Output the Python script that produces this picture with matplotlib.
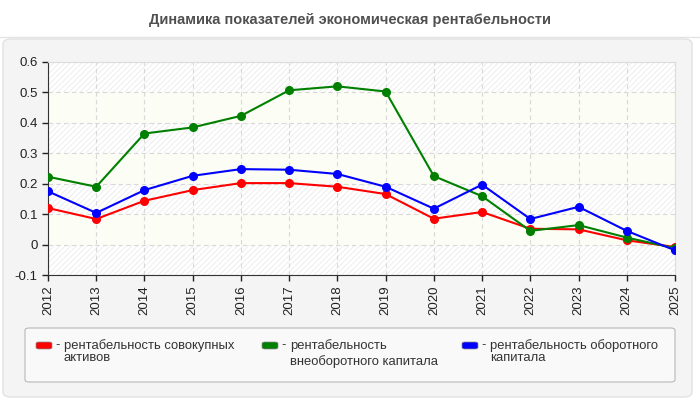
import numpy as np
import matplotlib
matplotlib.use("Agg")
import matplotlib.pyplot as plt
from matplotlib.patches import FancyBboxPatch

plt.rcParams['font.family'] = ['Liberation Sans', 'DejaVu Sans']
plt.rcParams['hatch.linewidth'] = 0.6

years = list(range(2012, 2026))
total_assets = [0.12, 0.084, 0.144, 0.179, 0.202, 0.202, 0.19, 0.166, 0.085, 0.107, 0.052, 0.05, 0.014, -0.008]
noncurrent = [0.223, 0.19, 0.365, 0.385, 0.423, 0.507, 0.52, 0.503, 0.225, 0.159, 0.045, 0.064, 0.023, -0.012]
current = [0.175, 0.104, 0.179, 0.226, 0.248, 0.246, 0.232, 0.19, 0.118, 0.197, 0.084, 0.124, 0.045, -0.019]

labels = ['рентабельность совокупных\nактивов',
          'рентабельность\nвнеоборотного капитала',
          'рентабельность оборотного\nкапитала']
colors = ['#ff0000', '#008000', '#0000ff']
series = [total_assets, noncurrent, current]

fig = plt.figure(figsize=(7, 4), dpi=100, facecolor='white')

# outer grey panel
panel = FancyBboxPatch((3 / 700, 3 / 400), 689 / 700, 358 / 400,
                       boxstyle='round,pad=0,rounding_size=0.012',
                       transform=fig.transFigure, facecolor='#f4f4f4',
                       edgecolor='#e2e2e2', linewidth=1, zorder=-2)
fig.patches.append(panel)
fig.add_artist(plt.Line2D([0, 1], [363 / 400, 363 / 400], color='#e4e4e4', lw=1,
                          transform=fig.transFigure, zorder=-2))

fig.text(0.5, 380 / 400, 'Динамика показателей экономическая рентабельности',
         ha='center', va='center', fontsize=10.5, fontweight='bold', color='#505050')

ax = fig.add_axes([48 / 700, 125 / 400, 627 / 700, 213 / 400])
ax.set_zorder(1)
ax.set_facecolor('white')

# striped background bands
bands = np.arange(-0.1, 0.6, 0.1)
for i, b in enumerate(bands):
    if i % 2 == 0:
        ax.axhspan(b, b + 0.1, facecolor='white', edgecolor='#ebebeb',
                   hatch='//////', linewidth=0, zorder=0)
    else:
        ax.axhspan(b, b + 0.1, facecolor='#fcfdf5', edgecolor='none',
                   linewidth=0, zorder=0)

for vals, c in zip(series, colors):
    ax.plot(years, vals, color=c, lw=1.5, marker='o', markersize=5.5, zorder=3)

ax.set_xlim(2012, 2025)
ax.set_ylim(-0.1, 0.6)
ax.set_xticks(years)
ax.set_xticklabels([str(y) for y in years], rotation=90)
ax.set_yticks(np.round(np.arange(-0.1, 0.61, 0.1), 1))
ax.set_yticklabels(['-0.1', '0', '0.1', '0.2', '0.3', '0.4', '0.5', '0.6'])
ax.tick_params(labelsize=9.5, colors='#222222', length=4, width=1)
ax.grid(True, color='#d8d8d8', linestyle=(0, (4, 3)), linewidth=0.8, zorder=1)
ax.set_axisbelow(True)
for s in ['left', 'bottom']:
    ax.spines[s].set_color('#333333')
for s in ['top', 'right']:
    ax.spines[s].set_color('#dddddd')

# legend box
lbox = FancyBboxPatch((25 / 700, 18 / 400), 650 / 700, 54 / 400,
                      boxstyle='round,pad=0,rounding_size=0.006',
                      transform=fig.transFigure, facecolor='#f9f9f9',
                      edgecolor='#b8b8b8', linewidth=0.8, zorder=-1)
fig.patches.append(lbox)
xs = [36, 262, 462]
spacing = [1.0, 1.35, 1.0]
for x, lab, c, sp in zip(xs, labels, colors, spacing):
    fig.patches.append(FancyBboxPatch((x / 700, 51 / 400), 16 / 700, 7 / 400,
                                      boxstyle='round,pad=0,rounding_size=0.004',
                                      transform=fig.transFigure, facecolor=c,
                                      edgecolor='#888888', linewidth=0.5, zorder=2))
    fig.text((x + 19) / 700, 55 / 400, '-', fontsize=9.4, color='#333333',
             va='center', ha='left')
    fig.text((x + 28) / 700, 61 / 400, lab, fontsize=9.4, color='#333333',
             va='top', ha='left', linespacing=sp)

fig.savefig('out.png', dpi=100, facecolor='white')
